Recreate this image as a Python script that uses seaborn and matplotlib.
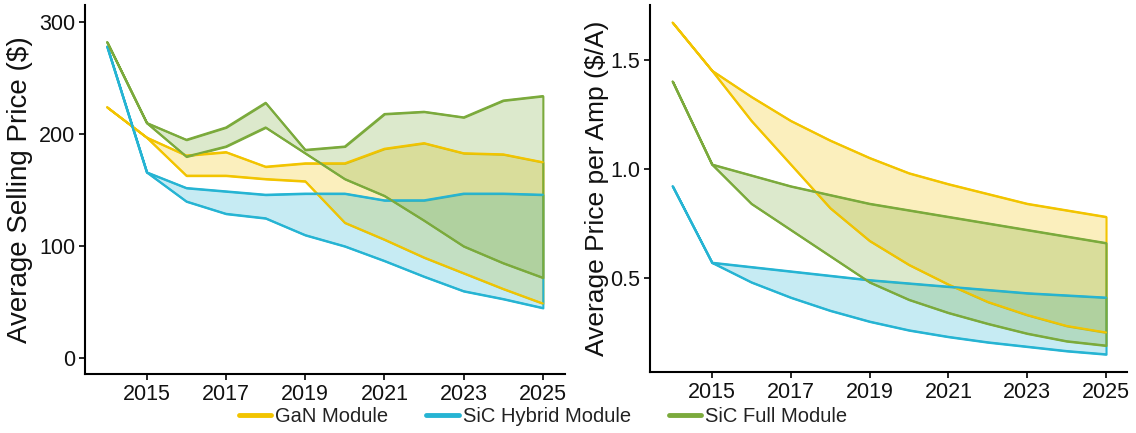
import matplotlib
matplotlib.use("Agg")
import numpy as np
import pandas as pd
import seaborn as sns
import matplotlib.pyplot as plt
from matplotlib.lines import Line2D

# ---- data -------------------------------------------------------------
years = [2014, 2015, 2016, 2017, 2018, 2019, 2020, 2021, 2022, 2023, 2024, 2025]
modules = ["GaN Module", "SiC Hybrid Module", "SiC Full Module"]

# Average selling price ($): upper / lower scenario bounds
gan_asp_hi = [224, 197, 181, 184, 171, 174, 174, 187, 192, 183, 182, 175]
gan_asp_lo = [224, 197, 163, 163, 160, 158, 121, 106, 90, 76, 62, 49]
hyb_asp_hi = [278, 166, 152, 149, 146, 147, 147, 141, 141, 147, 147, 146]
hyb_asp_lo = [278, 166, 140, 129, 125, 110, 100, 87, 73, 60, 53, 45]
full_asp_hi = [282, 210, 195, 206, 228, 186, 189, 218, 220, 215, 230, 234]
full_asp_lo = [282, 210, 180, 189, 206, 183, 160, 145, 123, 100, 85, 72]

# Average price per amp ($/A): upper / lower scenario bounds
gan_ppa_hi = [1.67, 1.45, 1.33, 1.22, 1.13, 1.05, 0.98, 0.93, 0.885, 0.84, 0.81, 0.78]
gan_ppa_lo = [1.67, 1.45, 1.22, 1.02, 0.82, 0.67, 0.56, 0.47, 0.39, 0.33, 0.28, 0.25]
hyb_ppa_hi = [0.92, 0.57, 0.55, 0.53, 0.51, 0.49, 0.475, 0.46, 0.445, 0.43, 0.42, 0.41]
hyb_ppa_lo = [0.92, 0.57, 0.48, 0.41, 0.35, 0.30, 0.26, 0.23, 0.205, 0.185, 0.165, 0.15]
full_ppa_hi = [1.40, 1.02, 0.97, 0.92, 0.88, 0.84, 0.81, 0.78, 0.75, 0.72, 0.69, 0.66]
full_ppa_lo = [1.40, 1.02, 0.84, 0.72, 0.60, 0.48, 0.40, 0.34, 0.29, 0.245, 0.21, 0.19]

colors = {"GaN Module": "#F2C400", "SiC Hybrid Module": "#26B4D3", "SiC Full Module": "#7BAA3C"}

asp = {"GaN Module": (gan_asp_lo, gan_asp_hi),
       "SiC Hybrid Module": (hyb_asp_lo, hyb_asp_hi),
       "SiC Full Module": (full_asp_lo, full_asp_hi)}
ppa = {"GaN Module": (gan_ppa_lo, gan_ppa_hi),
       "SiC Hybrid Module": (hyb_ppa_lo, hyb_ppa_hi),
       "SiC Full Module": (full_ppa_lo, full_ppa_hi)}


def long_frame(bands):
    rows = []
    for m, (lo, hi) in bands.items():
        for b, vals in (("low", lo), ("high", hi)):
            for y, v in zip(years, vals):
                rows.append({"year": y, "module": m, "bound": b, "value": v})
    return pd.DataFrame(rows)


# ---- style ------------------------------------------------------------
sns.set_theme(style="ticks")
plt.rcParams["font.family"] = ["Liberation Sans", "DejaVu Sans"]

fig = plt.figure(figsize=(11.36, 4.33), dpi=100)
ax1 = fig.add_axes([0.0748, 0.136, 0.4226, 0.852])
ax2 = fig.add_axes([0.572, 0.141, 0.420, 0.847])


def draw_panel(ax, bands):
    for m, (lo, hi) in bands.items():
        c = colors[m]
        ax.fill_between(years, lo, hi, facecolor=matplotlib.colors.to_rgba(c, 0.26),
                        edgecolor=c, linewidth=1.5, zorder=2)
    df = long_frame(bands)
    sns.lineplot(data=df, x="year", y="value", hue="module", units="bound",
                 estimator=None, palette=colors, linewidth=1.5, legend=False,
                 ax=ax, zorder=3)
    ax.set_xticks([2015, 2017, 2019, 2021, 2023, 2025])
    ax.set_xlabel("")
    for side in ("top", "right"):
        ax.spines[side].set_visible(False)
    for side in ("left", "bottom"):
        ax.spines[side].set_color("black")
        ax.spines[side].set_linewidth(1.5)
    ax.tick_params(axis="both", labelsize=15.5, length=4, width=1.2,
                   color="black", labelcolor="#111111", pad=3)
    ax.grid(False)


draw_panel(ax1, asp)
ax1.set_xlim(2013.44, 2025.56)
ax1.set_ylim(-14, 315)
ax1.set_yticks([0, 100, 200, 300])
ax1.set_ylabel("Average Selling Price ($)", fontsize=20, color="#111111", labelpad=4)

draw_panel(ax2, ppa)
ax2.set_xlim(2013.42, 2025.53)
ax2.set_ylim(0.069, 1.75)
ax2.set_yticks([0.5, 1.0, 1.5])
ax2.set_yticklabels(["0.5", "1.0", "1.5"])
ax2.set_ylabel("Average Price per Amp ($/A)", fontsize=19, color="#111111", labelpad=1)

handles = [Line2D([0], [0], color=colors[m], lw=3.5) for m in modules]
fig.legend(handles, modules, loc="center", bbox_to_anchor=(543 / 1136, 1 - 417 / 433),
           ncol=3, frameon=False, fontsize=14.5, handlelength=1.6, handletextpad=0.2,
           columnspacing=1.9, labelcolor="#222222")

fig.savefig("out.png", dpi=100, facecolor="white")
